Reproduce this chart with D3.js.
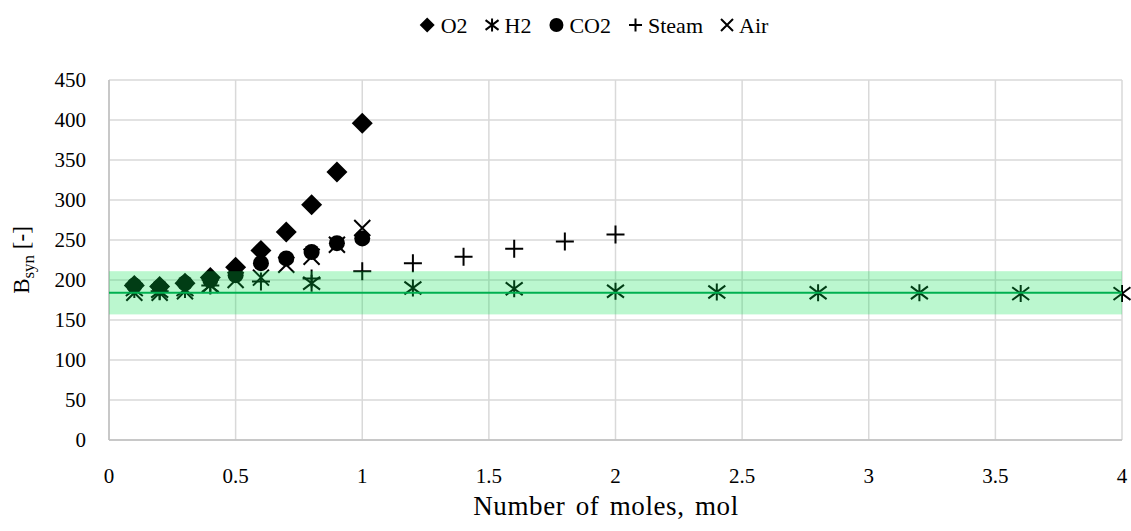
<!DOCTYPE html>
<html><head><meta charset="utf-8">
<script src="https://cdn.jsdelivr.net/npm/d3@7"></script>
<style>body{margin:0;background:#fff}svg{display:block}</style>
</head><body>
<svg id="c" width="1131" height="531"></svg>
<script>
const seriesNames = ["O2","H2","CO2","Steam","Air"];
const xO2 = [0.1,0.2,0.3,0.4,0.5,0.6,0.7,0.8,0.9,1.0];
const yO2 = [193,192,196,203,216,237,260,294,335,396];
const xH2 = [0.1,0.2,0.3,0.4,0.8,1.2,1.6,2.0,2.4,2.8,3.2,3.6,4.0];
const yH2 = [188,186,188,193,196,190,189,186,185,184,184,183,183];
const xCO2 = [0.1,0.2,0.3,0.4,0.5,0.6,0.7,0.8,0.9,1.0];
const yCO2 = [193,191,196,200,206,221,227,235,246,252];
const xSteam = [0.2,0.4,0.6,0.8,1.0,1.2,1.4,1.6,1.8,2.0];
const ySteam = [186,193,198,202,211,221,229,239,248,257];
const xAir = [0.1,0.2,0.3,0.4,0.5,0.6,0.7,0.8,0.9,1.0];
const yAir = [184,184,186,194,200,203,219,229,244,265];
const meanLine = 184;
const bandLow = 157, bandHigh = 211;
const xTicks = [0,0.5,1,1.5,2,2.5,3,3.5,4];
const yTicks = [0,50,100,150,200,250,300,350,400,450];

const FONT = "'Palatino Linotype','Book Antiqua',Palatino,'Liberation Serif',serif";
const svg = d3.select("#c");
const L=109, R=1122, T=80, B=440;
const x = d3.scaleLinear().domain([0,4]).range([L,R]);
const y = d3.scaleLinear().domain([0,450]).range([B,T]);

// grid
const g = svg.append("g");
g.selectAll(".gy").data(yTicks).join("line")
  .attr("x1",L).attr("x2",R).attr("y1",d=>y(d)).attr("y2",d=>y(d))
  .attr("stroke","#d9d9d9").attr("stroke-width",1.5);
g.selectAll(".gx").data(xTicks).join("line")
  .attr("y1",T).attr("y2",B).attr("x1",d=>x(d)).attr("x2",d=>x(d))
  .attr("stroke","#d9d9d9").attr("stroke-width",1.5);
g.append("line").attr("x1",L).attr("x2",L).attr("y1",T).attr("y2",B).attr("stroke","#bfbfbf").attr("stroke-width",1.5);
g.append("line").attr("x1",L).attr("x2",R).attr("y1",B).attr("y2",B).attr("stroke","#bfbfbf").attr("stroke-width",1.5);

// tick labels
svg.append("g").selectAll("text").data(yTicks).join("text")
  .attr("x",86).attr("y",d=>y(d)).attr("dy","0.35em").attr("text-anchor","end")
  .attr("font-family",FONT).attr("font-size",21).attr("fill","#000").text(d=>d);
svg.append("g").selectAll("text").data(xTicks).join("text")
  .attr("x",d=>x(d)).attr("y",476).attr("dy","0.35em").attr("text-anchor","middle")
  .attr("font-family",FONT).attr("font-size",21).attr("fill","#000").text(d=>d);

// axis titles
svg.append("text").attr("x",606).attr("y",506).attr("dy","0.35em").attr("text-anchor","middle")
  .attr("font-family",FONT).attr("font-size",27).attr("letter-spacing",0.6).attr("word-spacing",3)
  .text("Number of moles, mol");
const yt = svg.append("text").attr("transform","translate(29,260) rotate(-90)").attr("text-anchor","middle")
  .attr("font-family",FONT).attr("font-size",23);
yt.append("tspan").text("B");
yt.append("tspan").attr("font-size",17).attr("dy",5).text("syn");
yt.append("tspan").attr("dy",-5).text(" [-]");

// marker shapes
function markerPath(type, s){
  const h=s/2;
  if(type==="diamond") return `M0,${-h}L${h},0L0,${h}L${-h},0Z`;
  if(type==="circle") return `M${h},0A${h},${h} 0 1,1 ${-h},0A${h},${h} 0 1,1 ${h},0Z`;
  if(type==="plus") return `M${-h},0L${h},0M0,${-h}L0,${h}`;
  if(type==="x") return `M${-h},${-h}L${h},${h}M${-h},${h}L${h},${-h}`;
  if(type==="star") return `M${-h},${-h*0.75}L${h},${h*0.75}M${-h},${h*0.75}L${h},${-h*0.75}M0,${-h}L0,${h}`;
}
const seriesDefs = [
  {name:"O2", xs:xO2, ys:yO2, type:"diamond", size:21, fill:true, ls:15},
  {name:"H2", xs:xH2, ys:yH2, type:"star", size:17, fill:false, ls:13},
  {name:"CO2", xs:xCO2, ys:yCO2, type:"circle", size:16, fill:true, ls:14},
  {name:"Steam", xs:xSteam, ys:ySteam, type:"plus", size:18, fill:false, ls:13},
  {name:"Air", xs:xAir, ys:yAir, type:"x", size:16, fill:false, ls:12}
];
const mg = svg.append("g");
seriesDefs.forEach(s=>{
  const pts = s.xs.map((v,i)=>({x:v,y:s.ys[i]}));
  mg.append("g").selectAll("path").data(pts).join("path")
    .attr("transform",d=>`translate(${x(d.x)},${y(d.y)})`)
    .attr("d",markerPath(s.type,s.size))
    .attr("fill",s.fill?"#000":"none")
    .attr("stroke","#000").attr("stroke-width",s.fill?0:2);
});

// band and mean line on top
svg.append("rect").attr("x",L).attr("width",R-L).attr("y",y(bandHigh)).attr("height",y(bandLow)-y(bandHigh))
  .attr("fill","rgb(4,226,78)").attr("fill-opacity",0.27);
svg.append("line").attr("x1",L).attr("x2",R).attr("y1",y(meanLine)).attr("y2",y(meanLine))
  .attr("stroke","#00b050").attr("stroke-width",2);

// legend
const lg = svg.append("g");
let cx = 0;
seriesDefs.forEach((s,i)=>{
  const it = lg.append("g");
  it.append("path").attr("transform",`translate(${cx+s.ls/2},25)`).attr("d",markerPath(s.type,s.ls))
    .attr("fill",s.fill?"#000":"none").attr("stroke","#000").attr("stroke-width",s.fill?0:2);
  const t = it.append("text").attr("x",cx+s.ls+6).attr("y",25).attr("dy","0.35em")
    .attr("font-family",FONT).attr("font-size",22).text(seriesNames[i]);
  cx += s.ls + 6 + t.node().getComputedTextLength() + 18;
});
const totalW = cx - 18;
lg.attr("transform",`translate(${594-totalW/2},0)`);
</script>
</body></html>
